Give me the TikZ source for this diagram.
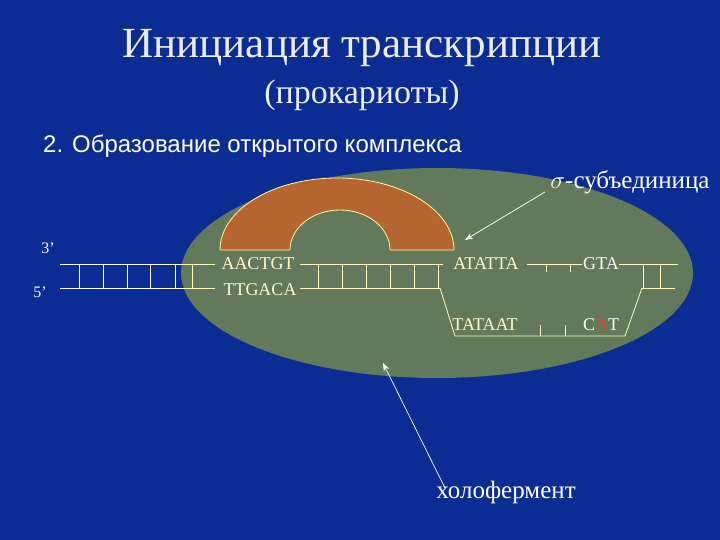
\documentclass[tikz,border=0pt]{standalone}
\usetikzlibrary{arrows.meta}
\usepackage{fontspec}
\setmainfont{Liberation Serif}
\newfontfamily\sansf{Liberation Sans}
\begin{document}
\begin{tikzpicture}[x=1pt,y=-1pt,
  strand/.style={draw=yellow!25!white, line width=0.8pt},
  wstrand/.style={draw=white, line width=0.8pt},
  dna/.style={text=yellow!20!white, font=\fontsize{18}{18}\selectfont, inner sep=1pt},
  lbl/.style={text=white, font=\fontsize{16}{16}\selectfont},
  pt/.style={draw=white, line width=0.7pt, -{Stealth[length=8pt]}}]
\definecolor{bg}{HTML}{0B2C92}
\definecolor{ell}{HTML}{62795C}
\definecolor{arcc}{HTML}{B5652F}
\fill[bg] (0,0) rectangle (720,540);
\useasboundingbox (0,0) rectangle (720,540);
\fill[ell] (437,273) ellipse [x radius=256, y radius=105];
% arc
\filldraw[fill=arcc, draw=yellow!40!white, line width=0.8pt]
  (220,250) arc[start angle=180, end angle=360, x radius=117, y radius=72]
  -- (390,250) arc[start angle=360, end angle=180, x radius=50, y radius=40] -- cycle;
\node[text=white!85!gray, font=\fontsize{43}{43}\selectfont] (t1) at (362,48) {Инициация транскрипции};
\node[text=white!85!gray, font=\fontsize{34}{34}\selectfont] (t2) at (362,95) {(прокариоты)};
\node[text=white, font=\sansf\fontsize{24}{24}\selectfont, anchor=west, inner sep=0pt] (t3) at (43,146) {2. Образование открытого комплекса};
\node[text=white, font=\fontsize{25}{25}\selectfont] (sig) at (630,182) {$\sigma$-субъединица};
\node[lbl] (p3) at (48,248) {3’};
\node[lbl] (p5) at (40,292) {5’};
% left segment
\draw[wstrand] (60,264) -- (160,264) (60,288) -- (160,288);
\draw[strand] (160,264) -- (215,264) (160,288) -- (215,288);
\foreach \x in {79,103,127,150,175} \draw[wstrand] (\x,264) -- (\x,288);
\draw[strand] (192,264) -- (192,288);
\node[dna] (a1) at (258,264) {AACTGT};
\node[dna] (a2) at (260,290) {TTGACA};
\draw[strand] (300,264) -- (443,264) (300,288) -- (440,288);
\foreach \x in {318,342,366,390,414,438} \draw[strand] (\x,264) -- (\x,288);
\node[dna] (b1) at (486,264) {ATATTA};
\draw[strand] (527,264) -- (582,264);
\foreach \x in {546,570} \draw[strand] (\x,264) -- (\x,272);
\node[text=white, font=\fontsize{18}{18}\selectfont, inner sep=1pt] (g1) at (601,264) {GTA};
\draw[strand] (619,264) -- (678,264);
\draw[strand] (642,288) -- (675,288);
\foreach \x in {643,660} \draw[strand] (\x,264) -- (\x,288);
\draw[strand] (440,288) -- (455,336) -- (625,336) -- (642,288);
\node[dna] (c1) at (485,325) {TATAAT};
\foreach \x in {540,565} \draw[strand] (\x,336) -- (\x,325);
\node[text=white, font=\fontsize{18}{18}\selectfont, inner sep=1pt] (c2) at (601,325) {C\textcolor{red!80!white}{A}T};
\node[text=white, font=\fontsize{25}{25}\selectfont] (holo) at (506,492) {холофермент};
\coordinate (sa) at (465,240);
\coordinate (ha) at (383,363);
\coordinate (s0) at (545,192);
\coordinate (h0) at (445,488);
\draw[pt] (s0) -- (sa);
\draw[pt] (h0) -- (ha);
\end{tikzpicture}
\end{document}
